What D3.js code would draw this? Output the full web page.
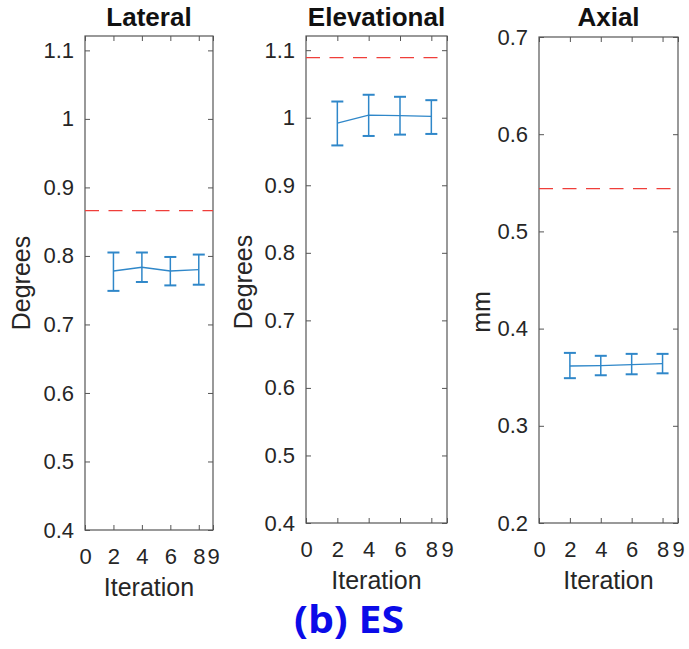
<!DOCTYPE html>
<html>
<head>
<meta charset="utf-8">
<script src="https://cdn.jsdelivr.net/npm/d3@7"></script>
<style>
  body { margin: 0; background: #fff; }
  .axis text { font-family: "Liberation Sans", Arial, sans-serif; font-size: 22px; fill: #262626; }
  .axis line { stroke: #555; }
  .axis path { display: none; }
</style>
</head>
<body>
<div class="chartWrap"></div>
<script>
//Data
const iterations = [2, 4, 6, 8];
const xTicks = [0, 2, 4, 6, 8, 9];

const lateralMean = [0.778, 0.7835, 0.778, 0.780];
const lateralLow  = [0.749, 0.762, 0.757, 0.758];
const lateralHigh = [0.805, 0.805, 0.7985, 0.802];
const lateralRef  = 0.866;

const elevMean = [0.992, 1.004, 1.003, 1.002];
const elevLow  = [0.959, 0.973, 0.975, 0.976];
const elevHigh = [1.024, 1.034, 1.031, 1.026];
const elevRef  = 1.089;

const axialMean = [0.3615, 0.362, 0.363, 0.364];
const axialLow  = [0.349, 0.352, 0.353, 0.354];
const axialHigh = [0.375, 0.372, 0.374, 0.374];
const axialRef  = 0.544;

const degTicks = [0.4, 0.5, 0.6, 0.7, 0.8, 0.9, 1.0, 1.1];
const mmTicks  = [0.2, 0.3, 0.4, 0.5, 0.6, 0.7];

//Layout
let width = 689, height = 649;
const blue = "#2f87c9", red = "#ef3e3a", ink = "#262626";
const font = "'Liberation Sans', Arial, sans-serif";

let canvas = d3.select(".chartWrap").append("svg").attr("width", width).attr("height", height);

let panels = [
  {title: "Lateral", ylabel: "Degrees", left: 85, right: 213, top: 36, bottom: 530, yDomain: [0.4, 1.121], yTicks: degTicks,
   mean: lateralMean, low: lateralLow, high: lateralHigh, ref: lateralRef, labelX: 30, labelY: 283},
  {title: "Elevational", ylabel: "Degrees", left: 306, right: 447, top: 36, bottom: 523, yDomain: [0.4, 1.121], yTicks: degTicks,
   mean: elevMean, low: elevLow, high: elevHigh, ref: elevRef, labelX: 252, labelY: 282},
  {title: "Axial", ylabel: "mm", left: 539, right: 678, top: 37, bottom: 523, yDomain: [0.2, 0.7], yTicks: mmTicks,
   mean: axialMean, low: axialLow, high: axialHigh, ref: axialRef, labelX: 490, labelY: 312}
];

panels.forEach(drawPanel);

//Figure caption
canvas.append("text").text("(b) ES")
  .attr("x", 349).attr("y", 633)
  .attr("text-anchor", "middle")
  .attr("font-family", "'Open Sans', 'Noto Sans', sans-serif")
  .attr("font-weight", "bold")
  .attr("font-size", 38)
  .attr("textLength", 110).attr("lengthAdjust", "spacingAndGlyphs")
  .attr("fill", "#0b0be8");

function drawPanel(p) {
  let xScale = d3.scaleLinear().domain([0, 9]).range([p.left, p.right]);
  let yScale = d3.scaleLinear().domain(p.yDomain).range([p.bottom, p.top]);
  let fmt = d => String(+d.toFixed(1));
  let g = canvas.append("g");

  //ticks on all four sides, pointing inward
  g.append("g").attr("class", "axis").attr("transform", "translate(" + p.left + ",0)")
    .call(d3.axisLeft(yScale).tickValues(p.yTicks).tickFormat(fmt).tickSizeInner(-5).tickSizeOuter(0).tickPadding(11));
  g.append("g").attr("class", "axis").attr("transform", "translate(" + p.right + ",0)")
    .call(d3.axisRight(yScale).tickValues(p.yTicks).tickFormat("").tickSizeInner(-5).tickSizeOuter(0));
  g.append("g").attr("class", "axis").attr("transform", "translate(0," + p.bottom + ")")
    .call(d3.axisBottom(xScale).tickValues(xTicks).tickFormat(d3.format("d")).tickSizeInner(-5).tickSizeOuter(0).tickPadding(18));
  g.append("g").attr("class", "axis").attr("transform", "translate(0," + p.top + ")")
    .call(d3.axisTop(xScale).tickValues(xTicks).tickFormat("").tickSizeInner(-5).tickSizeOuter(0));

  //box
  g.append("rect")
    .attr("x", p.left).attr("y", p.top)
    .attr("width", p.right - p.left).attr("height", p.bottom - p.top)
    .attr("fill", "none").attr("stroke", "#555").attr("stroke-width", 1.2);

  //reference dashed line
  g.append("line")
    .attr("x1", xScale(0)).attr("x2", xScale(9))
    .attr("y1", yScale(p.ref)).attr("y2", yScale(p.ref))
    .attr("stroke", red).attr("stroke-width", 1.3)
    .attr("stroke-dasharray", "14,9.5");

  let pts = iterations.map((it, i) => ({x: it, m: p.mean[i], lo: p.low[i], hi: p.high[i]}));

  //mean line
  g.append("path").datum(pts)
    .attr("d", d3.line().x(d => xScale(d.x)).y(d => yScale(d.m)))
    .attr("fill", "none").attr("stroke", blue).attr("stroke-width", 1.3);

  //error bars
  let bars = g.selectAll(".err").data(pts).enter().append("g").attr("class", "err")
    .attr("stroke", blue);
  bars.append("line")
    .attr("x1", d => xScale(d.x)).attr("x2", d => xScale(d.x))
    .attr("y1", d => yScale(d.lo)).attr("y2", d => yScale(d.hi))
    .attr("stroke-width", 1.5);
  bars.append("line")
    .attr("x1", d => xScale(d.x) - 6).attr("x2", d => xScale(d.x) + 6)
    .attr("y1", d => yScale(d.hi)).attr("y2", d => yScale(d.hi))
    .attr("stroke-width", 2);
  bars.append("line")
    .attr("x1", d => xScale(d.x) - 6).attr("x2", d => xScale(d.x) + 6)
    .attr("y1", d => yScale(d.lo)).attr("y2", d => yScale(d.lo))
    .attr("stroke-width", 2);

  //title & axis labels
  let cx = (p.left + p.right) / 2;
  g.append("text").text(p.title)
    .attr("x", cx).attr("y", 26)
    .attr("text-anchor", "middle")
    .attr("font-family", font).attr("font-weight", "bold").attr("font-size", 26)
    .attr("fill", "#111");
  g.append("text").text("Iteration")
    .attr("x", cx).attr("y", p.bottom + 66)
    .attr("text-anchor", "middle")
    .attr("font-family", font).attr("font-size", 25)
    .attr("fill", ink);
  g.append("text").text(p.ylabel)
    .attr("transform", "translate(" + p.labelX + "," + p.labelY + ") rotate(-90)")
    .attr("text-anchor", "middle")
    .attr("font-family", font).attr("font-size", 25)
    .attr("fill", ink);
}
</script>
</body>
</html>
